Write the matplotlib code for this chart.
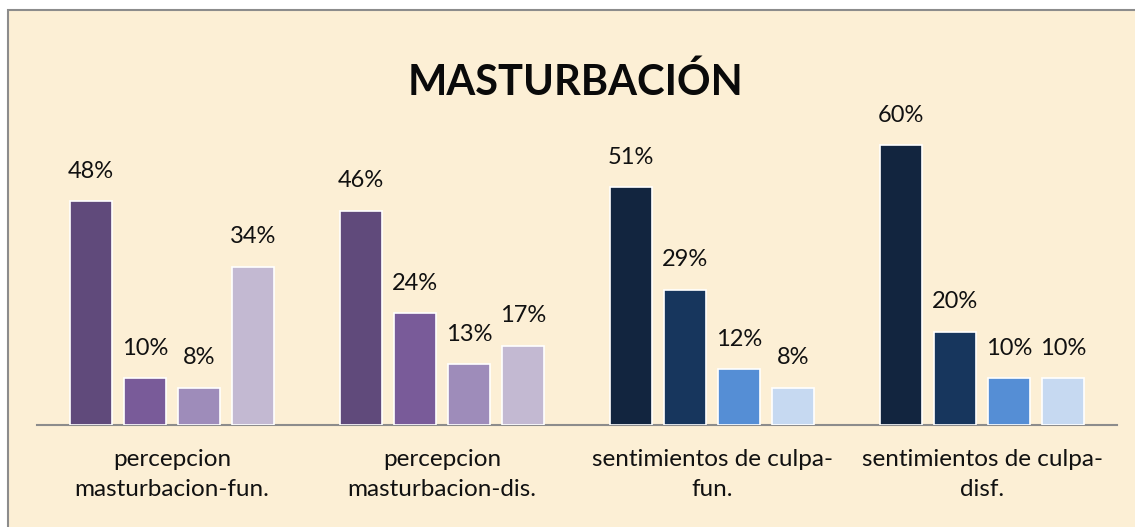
import numpy as np
import matplotlib.pyplot as plt
from matplotlib.patches import Rectangle

categories = ['percepcion\nmasturbacion-fun.', 'percepcion\nmasturbacion-dis.',
              'sentimientos de culpa-\nfun.', 'sentimientos de culpa-\ndisf.']
# four answer levels per category (percent)
values = [
    [48, 10, 8, 34],
    [46, 24, 13, 17],
    [51, 29, 12, 8],
    [60, 20, 10, 10],
]
purples = ['#604a7b', '#795b99', '#9e8cba', '#c3b9d2']
blues = ['#12253f', '#17365d', '#558ed5', '#c6d9f1']
group_colors = [purples, purples, blues, blues]

plt.rcParams['font.family'] = ['Lato', 'DejaVu Sans']

W, H = 1135, 527
fig = plt.figure(figsize=(W / 100, H / 100), dpi=100)
fig.patch.set_facecolor('white')

# parchment panel with grey frame
fig.patches.append(Rectangle((8 / W, -0.05), 1.1, (H - 10) / H + 0.05,
                             transform=fig.transFigure, facecolor='#fcefd5',
                             edgecolor='#8c8c8c', linewidth=1.5, zorder=-10))

ax = fig.add_axes([37 / W, 102 / H, 1080 / W, 300 / H])
ax.set_facecolor('none')

x = np.arange(len(categories))
pitch = 0.2
width = 0.155
for j in range(4):
    for i, cat in enumerate(categories):
        v = values[i][j]
        xpos = x[i] + (j - 1.5) * pitch
        ax.bar(xpos, v, width=width, color=group_colors[i][j],
               edgecolor='white', linewidth=1.2, zorder=3)
        ax.annotate(f'{v}%', (xpos, v), xytext=(0, 14), textcoords='offset points',
                    ha='center', va='bottom', fontsize=17, color='#111111')

ax.set_xlim(-0.5, len(categories) - 0.5)
ax.set_ylim(0, 64.4)
ax.set_yticks([])
for side in ['top', 'right', 'left']:
    ax.spines[side].set_visible(False)
ax.spines['bottom'].set_color('#8c8c8c')
ax.spines['bottom'].set_linewidth(1.5)
ax.set_xticks(x)
ax.set_xticklabels(categories, fontsize=17.5, linespacing=1.55, color='#111111')
ax.tick_params(axis='x', length=0, pad=17)

fig.text(575 / W, 1 - 82 / H, 'MASTURBACIÓN', ha='center', va='center',
         fontsize=30, fontweight='bold', color='#0a0a0a')

fig.savefig('out.png', dpi=100)
